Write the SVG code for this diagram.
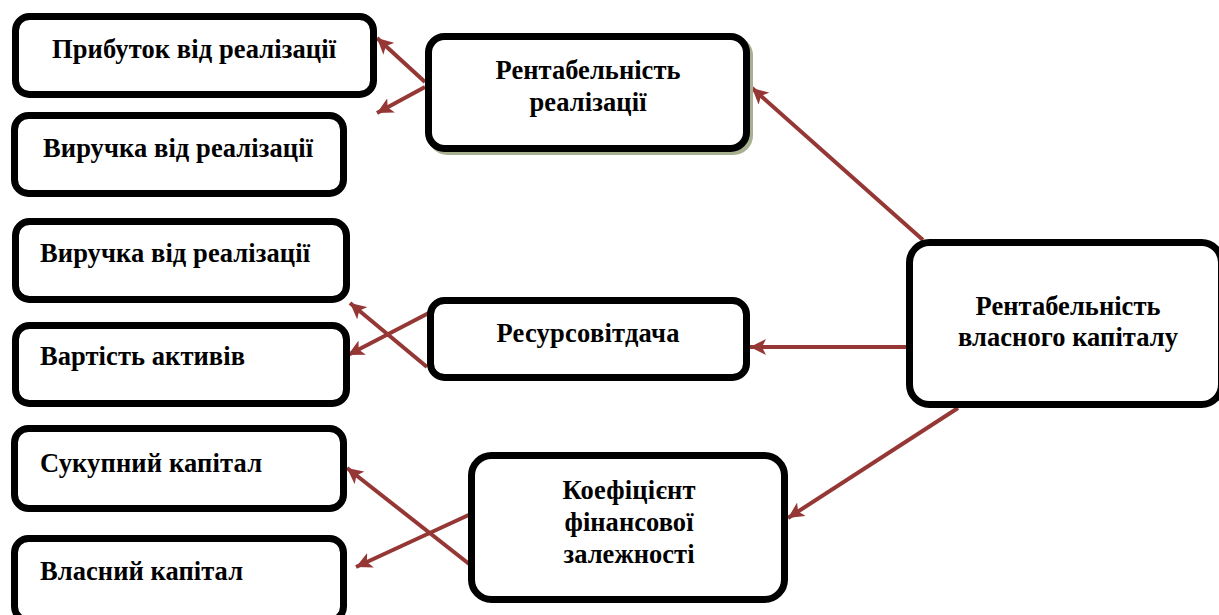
<svg xmlns="http://www.w3.org/2000/svg" width="1219" height="615" viewBox="0 0 1219 615">
<style>
.box{fill:#fff;stroke:#000;stroke-width:7}
.shadow{fill:#a7b091;stroke:#a7b091;stroke-width:7}
.t{font-family:"Liberation Serif","Times New Roman",serif;font-weight:bold;font-size:26.5px;fill:#000}
.c{text-anchor:middle}
.ln{stroke:#953735;stroke-width:4;fill:none;marker-end:url(#ah)}
</style>
<defs>
<marker id="ah" markerUnits="userSpaceOnUse" markerWidth="18" markerHeight="16" refX="16" refY="8" orient="auto">
<path d="M0,0 L16,8 L0,16 L4,8 Z" fill="#953735"/>
</marker>
</defs>
<g id="connectors">
<line class="ln" x1="923" y1="240" x2="752" y2="88"/>
<line class="ln" x1="906" y1="347" x2="750" y2="347"/>
<line class="ln" x1="958" y1="408" x2="788" y2="518"/>
<line class="ln" x1="425" y1="82" x2="377" y2="38"/>
<line class="ln" x1="425" y1="87" x2="377" y2="113"/>
<line class="ln" x1="448" y1="303" x2="348" y2="355"/>
<line class="ln" x1="427" y1="367" x2="350" y2="303"/>
<line class="ln" x1="473" y1="513" x2="356" y2="567"/>
<line class="ln" x1="473" y1="567" x2="347" y2="468"/>
</g>
<g id="n1">
<rect class="box" x="15.5" y="16.5" width="358" height="78" rx="14"/>
<text class="t c" x="194" y="58" textLength="284">Прибуток від реалізації</text>
</g>
<g id="n2">
<rect class="box" x="14.5" y="115.5" width="329" height="78" rx="14"/>
<text class="t c" x="178" y="157" textLength="270">Виручка від реалізації</text>
</g>
<g id="n3">
<rect class="shadow" x="431.5" y="39.5" width="318" height="112" rx="16"/>
<rect class="box" x="428.5" y="36.5" width="318" height="112" rx="16"/>
<text class="t c" x="588" y="79" textLength="185">Рентабельність</text>
<text class="t c" x="588" y="111" textLength="117">реалізації</text>
</g>
<g id="n4">
<rect class="box" x="15.5" y="221.5" width="331" height="78" rx="14"/>
<text class="t" x="40" y="262" textLength="270">Виручка від реалізації</text>
</g>
<g id="n5">
<rect class="box" x="15.5" y="325.5" width="331" height="78" rx="14"/>
<text class="t" x="40" y="365" textLength="205">Вартість активів</text>
</g>
<g id="n6">
<rect class="box" x="430.5" y="300.5" width="316" height="77" rx="14"/>
<text class="t c" x="588" y="342" textLength="183">Ресурсовітдача</text>
</g>
<g id="n7">
<rect class="box" x="909.5" y="242.5" width="312" height="162" rx="20"/>
<text class="t c" x="1068" y="315" textLength="185">Рентабельність</text>
<text class="t c" x="1068" y="346" textLength="220">власного капіталу</text>
</g>
<g id="n8">
<rect class="box" x="14.5" y="428.5" width="329" height="80" rx="14"/>
<text class="t" x="40" y="472" textLength="222">Сукупний капітал</text>
</g>
<g id="n9">
<rect class="box" x="14.5" y="538.5" width="329" height="82" rx="14"/>
<text class="t" x="40" y="580" textLength="203">Власний капітал</text>
</g>
<g id="n10">
<rect class="box" x="471.5" y="455.5" width="313" height="144" rx="20"/>
<text class="t c" x="629" y="499" textLength="133">Коефіцієнт</text>
<text class="t c" x="629" y="531" textLength="129">фінансової</text>
<text class="t c" x="629" y="563" textLength="131">залежності</text>
</g>
</svg>
